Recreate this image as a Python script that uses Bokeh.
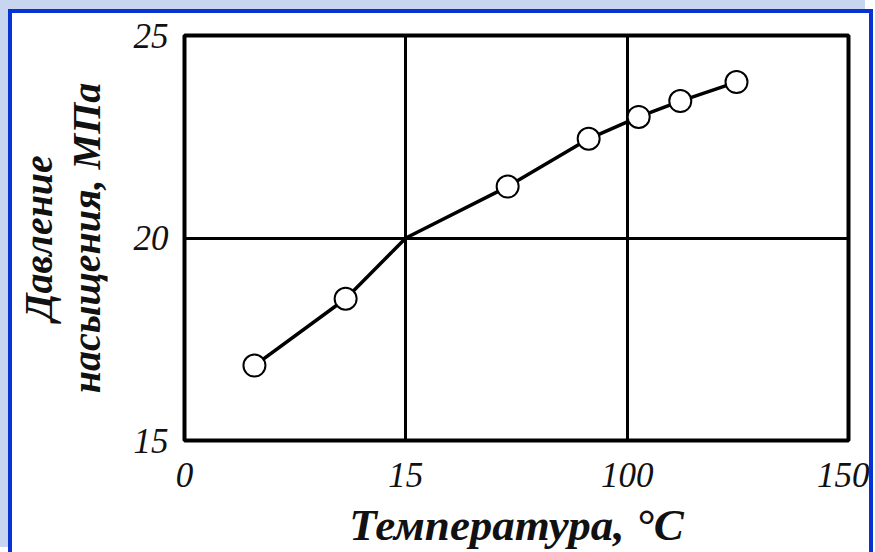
from bokeh.plotting import figure
from bokeh.models import Range1d, FixedTicker, Title
from bokeh.embed import file_html
from bokeh.resources import INLINE

# ---- data ----
temperature = [15.8, 36.4, 73.0, 91.3, 102.6, 112.0, 124.7]
pressure = [16.85, 18.5, 21.27, 22.45, 22.99, 23.38, 23.85]
# the drawn curve also passes through the grid crossing
curve_temperature = [15.8, 36.4, 50.0, 73.0, 91.3, 102.6, 112.0, 124.7]
curve_pressure = [16.85, 18.5, 20.0, 21.27, 22.45, 22.99, 23.38, 23.85]

x_ticks = [0, 50, 100, 150]
x_tick_labels = ["0", "15", "100", "150"]
y_ticks = [15, 20, 25]

x_title = "Температура, °C"
y_title_1 = "Давление"
y_title_2 = "насыщения, МПа"

SERIF = "Liberation Serif"
BLUE = "#0a32d2"
LAVENDER = "#c8d5f0"

p = figure(width=857, height=539, output_backend="svg", toolbar_location=None,
           x_range=Range1d(0, 150), y_range=Range1d(15, 25),
           min_border_left=172, min_border_right=21,
           min_border_top=22, min_border_bottom=109)

p.styles = {"margin-left": "12px", "margin-top": "13px",
            "box-shadow": f"0 0 0 4px {BLUE}, -8px -9px 0 4px {LAVENDER}"}

p.background_fill_color = "white"
p.border_fill_color = "white"
p.outline_line_color = "black"
p.outline_line_width = 4

# grid
p.xgrid.ticker = FixedTicker(ticks=x_ticks)
p.ygrid.ticker = FixedTicker(ticks=y_ticks)
for g in (p.xgrid, p.ygrid):
    g.grid_line_color = "black"
    g.grid_line_width = 3
    g.grid_line_alpha = 1.0

# axes
p.xaxis.ticker = FixedTicker(ticks=x_ticks)
p.xaxis.major_label_overrides = {t: l for t, l in zip(x_ticks, x_tick_labels)}
p.yaxis.ticker = FixedTicker(ticks=y_ticks)
for ax in (p.xaxis, p.yaxis):
    ax.axis_line_color = None
    ax.major_tick_line_color = None
    ax.minor_tick_line_color = None
    ax.major_label_text_font = SERIF
    ax.major_label_text_font_style = "italic"
    ax.major_label_text_font_size = "35px"
    ax.major_label_text_color = "#111111"
    ax.axis_label_text_font = SERIF
    ax.axis_label_text_font_style = "bold italic"
    ax.axis_label_text_color = "#111111"
p.xaxis.major_label_standoff = 16
p.yaxis.major_label_standoff = 10

p.xaxis.axis_label = x_title
p.xaxis.axis_label_text_font_size = "45px"
p.xaxis.axis_label_standoff = 10

p.yaxis.axis_label = y_title_2
p.yaxis.axis_label_text_font_size = "40px"
p.yaxis.axis_label_standoff = 22

t1 = Title(text=y_title_1, align="center", text_font=SERIF,
           text_font_style="bold italic", text_font_size="40px",
           text_color="#111111", standoff=0)
p.add_layout(t1, "left")

# curve and markers
p.line(curve_temperature, curve_pressure, line_color="black", line_width=3.5)
p.scatter(temperature, pressure, marker="circle", size=22,
          fill_color="white", line_color="black", line_width=2)

open("out.html", "w").write(file_html(p, INLINE))
